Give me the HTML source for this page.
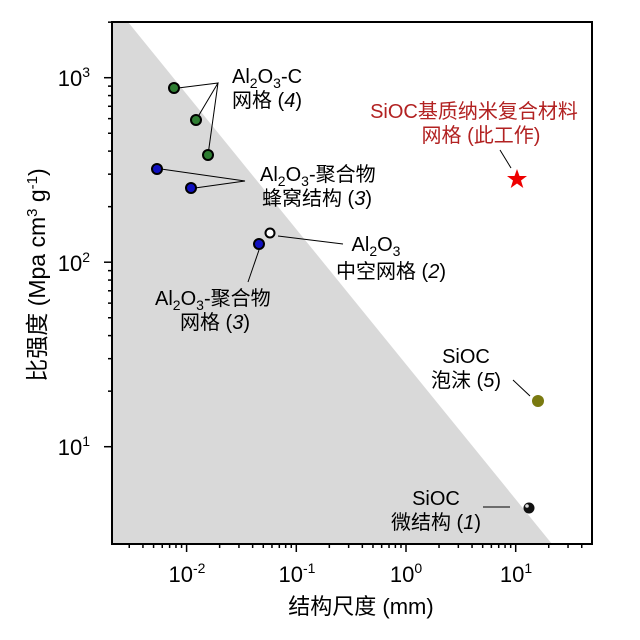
<!DOCTYPE html>
<html><head><meta charset="utf-8"><style>
html,body{margin:0;padding:0;background:#fff}
svg{display:block;font-family:"Liberation Sans","Noto Sans CJK SC",sans-serif}
</style></head><body>
<svg id="s" width="640" height="640" viewBox="0 0 640 640" xmlns="http://www.w3.org/2000/svg">
<polygon points="112,22 128,22 552,544 112,544" fill="#d9d9d9"/>
<g stroke="#000" stroke-width="1" fill="none">
<polyline points="178,88 218,83 196,120"/>
<polyline points="218,83 208,155"/>
<polyline points="161,169 245,181 195,188"/>
<line x1="259" y1="250" x2="248" y2="282"/>
<line x1="278" y1="236" x2="343" y2="244"/>
<line x1="500" y1="150" x2="511" y2="168"/>
<line x1="513" y1="380" x2="530" y2="396"/>
<line x1="483" y1="507" x2="510" y2="507"/>
</g>
<g stroke="#000" stroke-width="2">
<circle cx="174" cy="88" r="5" fill="#2e7d32"/>
<circle cx="196" cy="120" r="5" fill="#2e7d32"/>
<circle cx="208" cy="155" r="5" fill="#2e7d32"/>
<circle cx="157" cy="169" r="5" fill="#1010c0"/>
<circle cx="191" cy="188" r="5" fill="#1010c0"/>
<circle cx="259" cy="244" r="5" fill="#1010c0"/>
<circle cx="270" cy="233" r="4.5" fill="#fff"/>
</g>
<circle cx="538" cy="401" r="6" fill="#7a7a10"/>
<circle cx="529" cy="508" r="5.5" fill="#111"/>
<circle cx="527" cy="506" r="1.8" fill="#ddd"/>
<polygon points="517,169 519.5,176 527,176 521,180.5 523.3,188 517,183.5 510.7,188 513,180.5 507,176 514.5,176" fill="#e00"/>
<rect x="112" y="22" width="480" height="522" fill="none" stroke="#000" stroke-width="2"/>
<g id="ticks" stroke="#000" stroke-width="1.5"></g>
<g font-size="20" fill="#000">
<text x="187" y="582" text-anchor="middle" font-size="22">10<tspan dy="-9" font-size="14">-2</tspan></text>
<text x="297" y="582" text-anchor="middle" font-size="22">10<tspan dy="-9" font-size="14">-1</tspan></text>
<text x="406" y="582" text-anchor="middle" font-size="22">10<tspan dy="-9" font-size="14">0</tspan></text>
<text x="516" y="582" text-anchor="middle" font-size="22">10<tspan dy="-9" font-size="14">1</tspan></text>
<text x="90" y="86" text-anchor="end" font-size="22">10<tspan dy="-9" font-size="14">3</tspan></text>
<text x="90" y="271" text-anchor="end" font-size="22">10<tspan dy="-9" font-size="14">2</tspan></text>
<text x="90" y="455" text-anchor="end" font-size="22">10<tspan dy="-9" font-size="14">1</tspan></text>
<text x="361" y="614" text-anchor="middle" font-size="22">结构尺度 (mm)</text>
<text transform="translate(45,275) rotate(-90)" text-anchor="middle" font-size="23">比强度 (Mpa cm<tspan dy="-8" font-size="15">3</tspan><tspan dy="8"> g</tspan><tspan dy="-8" font-size="15">-1</tspan><tspan dy="8">)</tspan></text>
<text x="232" y="83">Al<tspan dy="5" font-size="14">2</tspan><tspan dy="-5">O</tspan><tspan dy="5" font-size="14">3</tspan><tspan dy="-5">-C</tspan></text>
<text x="232" y="107">网格 (<tspan font-style="italic">4</tspan>)</text>
<text x="260" y="181">Al<tspan dy="5" font-size="14">2</tspan><tspan dy="-5">O</tspan><tspan dy="5" font-size="14">3</tspan><tspan dy="-5">-聚合物</tspan></text>
<text x="262" y="205">蜂窝结构 (<tspan font-style="italic">3</tspan>)</text>
<text x="376" y="251" text-anchor="middle">Al<tspan dy="5" font-size="14">2</tspan><tspan dy="-5">O</tspan><tspan dy="5" font-size="14">3</tspan></text>
<text x="336" y="278">中空网格 (<tspan font-style="italic">2</tspan>)</text>
<text x="155" y="305">Al<tspan dy="5" font-size="14">2</tspan><tspan dy="-5">O</tspan><tspan dy="5" font-size="14">3</tspan><tspan dy="-5">-聚合物</tspan></text>
<text x="180" y="329">网格 (<tspan font-style="italic">3</tspan>)</text>
<text x="474" y="118" text-anchor="middle" fill="#b22222">SiOC基质纳米复合材料</text>
<text x="481" y="142" text-anchor="middle" fill="#b22222">网格 (此工作)</text>
<text x="466" y="363" text-anchor="middle">SiOC</text>
<text x="466" y="387" text-anchor="middle">泡沫 (<tspan font-style="italic">5</tspan>)</text>
<text x="436" y="505" text-anchor="middle">SiOC</text>
<text x="436" y="529" text-anchor="middle">微结构 (<tspan font-style="italic">1</tspan>)</text>
</g>
</svg>
<script>
var g=document.getElementById('ticks'),h='';
function X(v){return 406+109.7*Math.log10(v);}
function Y(v){return 446.7-184.5*Math.log10(v);}
for(var e=-3;e<=1;e++)for(var m=1;m<10;m++){var v=m*Math.pow(10,e),x=X(v);if(x<112||x>592)continue;var L=m==1?8:4;h+='<line x1="'+x+'" y1="544" x2="'+x+'" y2="'+(544+L)+'"/>';}
for(var e=0;e<=3;e++)for(var m=1;m<10;m++){var v=m*Math.pow(10,e),y=Y(v);if(y<22||y>544)continue;var L=m==1?8:4;h+='<line x1="112" y1="'+y+'" x2="'+(112-L)+'" y2="'+y+'"/>';}
g.innerHTML=h;
</script>
</body></html>
